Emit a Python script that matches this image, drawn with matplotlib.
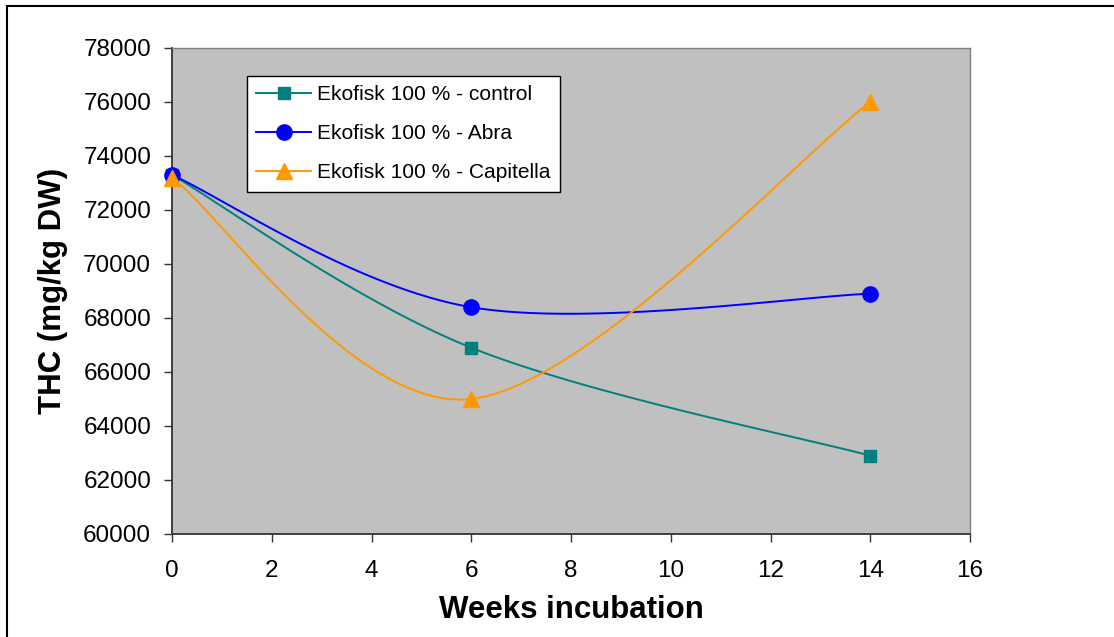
"""THC over weeks of incubation, Excel-style smoothed scatter."""

import numpy as np
import matplotlib
matplotlib.use('Agg')
import matplotlib.pyplot as plt
from matplotlib.patches import Rectangle

plt.rcParams['font.family'] = ['Liberation Sans', 'DejaVu Sans']

# Data
weeks = [0, 6, 14]
control = [73300, 66900, 62900]
abra = [73300, 68400, 68900]
capitella = [73200, 65000, 76000]

labels = ['Ekofisk 100 % - control', 'Ekofisk 100 % - Abra',
          'Ekofisk 100 % - Capitella']
colors = ['#008080', '#0000FF', '#FF9900']
markers = ['s', 'o', '^']
msizes = [9, 11, 11]


def smooth(xs, ys, n=60):
    """Bezier smoothing like Excel's 'smoothed line' option."""
    p = np.column_stack([xs, ys]).astype(float)
    out = [p[:1]]
    for i in range(len(p) - 1):
        p0 = p[i - 1] if i > 0 else p[i]
        p3 = p[i + 2] if i + 2 < len(p) else p[i + 1]
        c1 = p[i] + (p[i + 1] - p0) / 6
        c2 = p[i + 1] - (p3 - p[i]) / 6
        t = np.linspace(0, 1, n)[1:, None]
        seg = ((1 - t) ** 3 * p[i] + 3 * (1 - t) ** 2 * t * c1
               + 3 * (1 - t) * t ** 2 * c2 + t ** 3 * p[i + 1])
        out.append(seg)
    pts = np.vstack(out)
    return pts[:, 0], pts[:, 1]


fig = plt.figure(figsize=(11.14, 6.37), dpi=100)
# outer chart frame (only top and left visible in the crop)
fig.patches.append(Rectangle((7 / 1114, -0.1), 1.2, (631 / 637) + 0.1,
                             transform=fig.transFigure, fill=False,
                             edgecolor='black', linewidth=1.5))

ax = fig.add_axes([172 / 1114, 103 / 637, 798 / 1114, 486 / 637])
ax.set_facecolor('#C0C0C0')

for ys, lab, c, m, ms in zip([control, abra, capitella], labels, colors,
                             markers, msizes):
    sx, sy = smooth(weeks, ys)
    ax.plot(sx, sy, color=c, lw=1.4, zorder=3)
    ax.plot(weeks, ys, ls='none', marker=m, ms=ms, color=c, zorder=4,
            clip_on=False)
    # legend proxy
    ax.plot([], [], color=c, lw=1.4, marker=m, ms=ms, label=lab)

ax.set_xlim(0, 16)
ax.set_ylim(60000, 78000)
ax.set_xticks(range(0, 17, 2))
ax.set_yticks(range(60000, 78001, 2000))
ax.tick_params(direction='out', length=6, width=1, labelsize=17.5,
               colors='#333333', labelcolor='black')
ax.tick_params(axis='x', pad=13)
ax.tick_params(axis='y', pad=9)

for side in ['left', 'bottom']:
    ax.spines[side].set_color('#333333')
    ax.spines[side].set_linewidth(1.3)
for side in ['top', 'right']:
    ax.spines[side].set_color('#808080')
    ax.spines[side].set_linewidth(1.0)

ax.set_xlabel('Weeks incubation', fontsize=22.5, fontweight='bold')
ax.set_ylabel('THC (mg/kg DW)', fontsize=22.5, fontweight='bold')
ax.xaxis.set_label_coords(0.5, -(610 - 534) / 486, transform=ax.transAxes)
ax.yaxis.set_label_coords(-(172 - 53) / 798, 0.5, transform=ax.transAxes)
ax.xaxis.label.set_va('center')
ax.yaxis.label.set_va('center')

leg = ax.legend(loc='upper left', bbox_to_anchor=(75 / 798, 1 - 28 / 486),
                fontsize=15.1, frameon=True, fancybox=False, borderpad=0.45,
                labelspacing=0.95, handlelength=2.6, handletextpad=0.3,
                borderaxespad=0)
leg.get_frame().set_edgecolor('black')
leg.get_frame().set_linewidth(1.0)
leg.get_frame().set_facecolor('white')
leg.get_frame().set_alpha(1)

fig.savefig('out.png', dpi=100)
